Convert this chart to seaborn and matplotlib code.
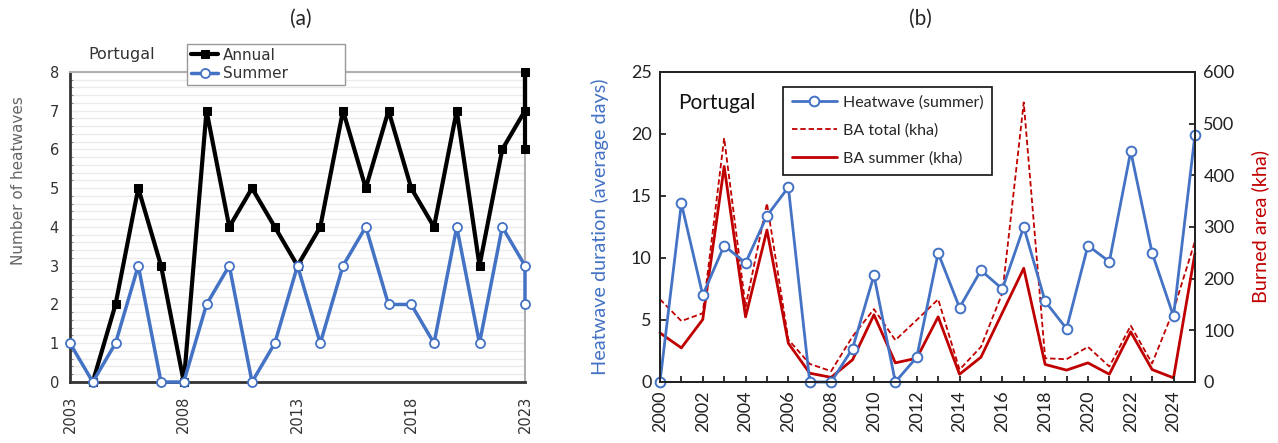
import matplotlib
matplotlib.use("Agg")
import matplotlib.pyplot as plt
from matplotlib.ticker import MultipleLocator
import seaborn as sns
import pandas as pd

# ---- Panel (a): yearly heatwave counts (final year holds several records) ----
annual_years = [2004, 2005, 2006, 2007, 2008, 2009, 2010, 2011, 2012, 2013, 2014,
                2015, 2016, 2017, 2018, 2019, 2020, 2021, 2022, 2023, 2023, 2023]
annual_counts = [0, 2, 5, 3, 0, 7, 4, 5, 4, 3, 4, 7, 5, 7, 5, 4, 7, 3, 6, 7, 8, 6]

summer_years = [2003, 2004, 2005, 2006, 2007, 2008, 2009, 2010, 2011, 2012, 2013,
                2014, 2015, 2016, 2017, 2018, 2019, 2020, 2021, 2022, 2023, 2023]
summer_counts = [1, 0, 1, 3, 0, 0, 2, 3, 0, 1, 3, 1, 3, 4, 2, 2, 1, 4, 1, 4, 3, 2]

a_xticks = [2003, 2008, 2013, 2018, 2023]

# ---- Panel (b): heatwave duration vs burned area ----
b_years = list(range(2000, 2026))
heatwave_days = [0, 14.4, 7.0, 11.0, 9.6, 13.4, 15.7, 0, 0, 2.7, 8.6, 0, 2.0,
                 10.4, 6.0, 9.0, 7.5, 12.5, 6.5, 4.3, 11.0, 9.7, 18.6, 10.4, 5.3, 19.9]
ba_total = [160, 118, 133, 472, 146, 346, 82, 35, 21, 88, 141, 81, 120,
            160, 24, 68, 172, 541, 46, 44, 68, 30, 109, 36, 139, 272]
ba_summer = [95, 66, 121, 417, 126, 294, 75, 17, 9, 43, 130, 37, 46,
             126, 15, 48, 134, 220, 34, 23, 37, 15, 97, 24, 8, 249]

BLUE = "#4472C4"
RED = "#C00000"

sns.set_theme(style="white")
plt.rcParams["font.family"] = ["Lato", "DejaVu Sans"]

fig = plt.figure(figsize=(12.78, 4.43), dpi=100)

# ================= Panel (a) =================
axa = fig.add_axes([0.0548, 0.1377, 0.356, 0.700])
df_ann = pd.DataFrame({"year": annual_years, "count": annual_counts})
df_sum = pd.DataFrame({"year": summer_years, "count": summer_counts})

sns.lineplot(data=df_ann, x="year", y="count", ax=axa, estimator=None, sort=False,
             color="black", lw=3.0, marker="s", markersize=6,
             markerfacecolor="black", markeredgecolor="black", label="Annual",
             clip_on=False, zorder=4)
sns.lineplot(data=df_sum, x="year", y="count", ax=axa, estimator=None, sort=False,
             color=BLUE, lw=2.5, marker="o", markersize=6.5,
             markerfacecolor="white", markeredgecolor=BLUE, markeredgewidth=1.3,
             label="Summer", clip_on=False, zorder=5)

axa.set_xlim(2003, 2023)
axa.set_ylim(0, 8)
axa.set_xticks(a_xticks)
axa.set_xticklabels([str(y) for y in a_xticks], rotation=90,
                    family="DejaVu Sans", fontsize=10.5, color="#333333")
axa.set_yticks(range(0, 9))
axa.set_yticklabels([str(v) for v in range(0, 9)], family="DejaVu Sans",
                    fontsize=10.5, color="#333333")
axa.yaxis.set_minor_locator(MultipleLocator(0.2))
axa.grid(True, which="both", axis="y", color="#ebebeb", lw=1.0)
axa.grid(False, axis="x")
axa.set_axisbelow(True)
axa.tick_params(axis="both", which="major", direction="in", length=6, width=1.5,
                color="#444444", pad=8)
axa.tick_params(axis="y", which="minor", direction="in", length=2, width=0.8,
                color="#888888", left=True)
axa.tick_params(axis="x", which="major", pad=10)
for side in ("left", "bottom"):
    axa.spines[side].set_color("#333333")
    axa.spines[side].set_linewidth(2.0)
for side in ("right", "top"):
    axa.spines[side].set_visible(True)
    axa.spines[side].set_color("#b0b0b0")
    axa.spines[side].set_linewidth(1.5)
axa.set_xlabel("")
axa.set_ylabel("Number of heatwaves", family="DejaVu Sans", fontsize=11,
               color="#666666")
axa.yaxis.set_label_coords(-0.097, 0.65)
axa.text(0.04, 1.055, "Portugal", transform=axa.transAxes, family="DejaVu Sans",
         fontsize=11.5, color="#333333", ha="left", va="center")
leg_a = axa.legend(loc="upper left", bbox_to_anchor=(0.257, 0.957, 0.347, 0.133),
                   mode="expand", frameon=True, fancybox=False, edgecolor="#999999",
                   framealpha=1, prop={"family": "DejaVu Sans", "size": 11},
                   handlelength=1.8, handletextpad=0.3, labelspacing=0.2,
                   borderpad=0.25, borderaxespad=0)
leg_a.set_zorder(6)
leg_a.get_frame().set_linewidth(1.0)
for t in leg_a.get_texts():
    t.set_color("#333333")

fig.text(0.235, 0.958, "(a)", ha="center", va="center", fontsize=15)

# ================= Panel (b) =================
axb = fig.add_axes([0.5164, 0.1377, 0.4186, 0.700])
axb2 = axb.twinx()

df_b = pd.DataFrame({"year": b_years, "heatwave": heatwave_days,
                     "ba_total": ba_total, "ba_summer": ba_summer})

sns.lineplot(data=df_b, x="year", y="ba_total", ax=axb2, color=RED, lw=1.3,
             linestyle=(0, (3, 1.6)), label="BA total (kha)", clip_on=False)
sns.lineplot(data=df_b, x="year", y="ba_summer", ax=axb2, color=RED, lw=2.0,
             label="BA summer (kha)", clip_on=False)
sns.lineplot(data=df_b, x="year", y="heatwave", ax=axb, color=BLUE, lw=2.0,
             marker="o", markersize=7, markerfacecolor="white",
             markeredgecolor=BLUE, markeredgewidth=1.4,
             label="Heatwave (summer)", clip_on=False)
axb.set_zorder(axb2.get_zorder() + 1)
axb.patch.set_visible(False)

axb.set_xlim(2000, 2025)
axb.set_ylim(0, 25)
axb2.set_ylim(0, 600)
axb.set_xticks(b_years)
axb.set_xticklabels([str(y) if y % 2 == 0 else "" for y in b_years], rotation=90,
                    fontsize=13, color="#222222")
axb.set_yticks(range(0, 26, 5))
axb.set_yticklabels([str(v) for v in range(0, 26, 5)], fontsize=13, color="#222222")
axb2.set_yticks(range(0, 601, 100))
axb2.set_yticklabels([str(v) for v in range(0, 601, 100)], fontsize=13,
                     color="#222222")
axb.tick_params(axis="both", direction="in", length=4, width=1.3, color="#222222",
                pad=6, left=True, bottom=True)
axb2.tick_params(axis="y", direction="in", length=4, width=1.3, color="#222222",
                 pad=6, right=True)
axb.grid(False)
axb2.grid(False)
for a in (axb, axb2):
    for s in a.spines.values():
        s.set_visible(True)
        s.set_color("#222222")
        s.set_linewidth(1.4)

axb.set_xlabel("")
axb.set_ylabel("Heatwave duration (average days)", color=BLUE, fontsize=14.3,
               labelpad=16)
axb2.set_ylabel("Burned area (kha)", color=RED, fontsize=14.3, labelpad=12)
axb.text(0.034, 0.90, "Portugal", transform=axb.transAxes, fontsize=15,
         ha="left", va="center", color="#111111")

if axb2.get_legend() is not None:
    axb2.get_legend().remove()
h1, l1 = axb.get_legend_handles_labels()
h2, l2 = axb2.get_legend_handles_labels()
leg_b = axb.legend(h1 + h2, l1 + l2, loc="upper left", bbox_to_anchor=(0.23, 0.952),
                   frameon=True, fancybox=False, edgecolor="#111111", framealpha=1,
                   fontsize=11.5, handlelength=2.8, handletextpad=0.4,
                   labelspacing=0.85, borderpad=0.55, borderaxespad=0)
leg_b.get_frame().set_linewidth(1.2)

fig.text(0.72, 0.958, "(b)", ha="center", va="center", fontsize=15)

fig.savefig("out.png", dpi=100, facecolor="white")
